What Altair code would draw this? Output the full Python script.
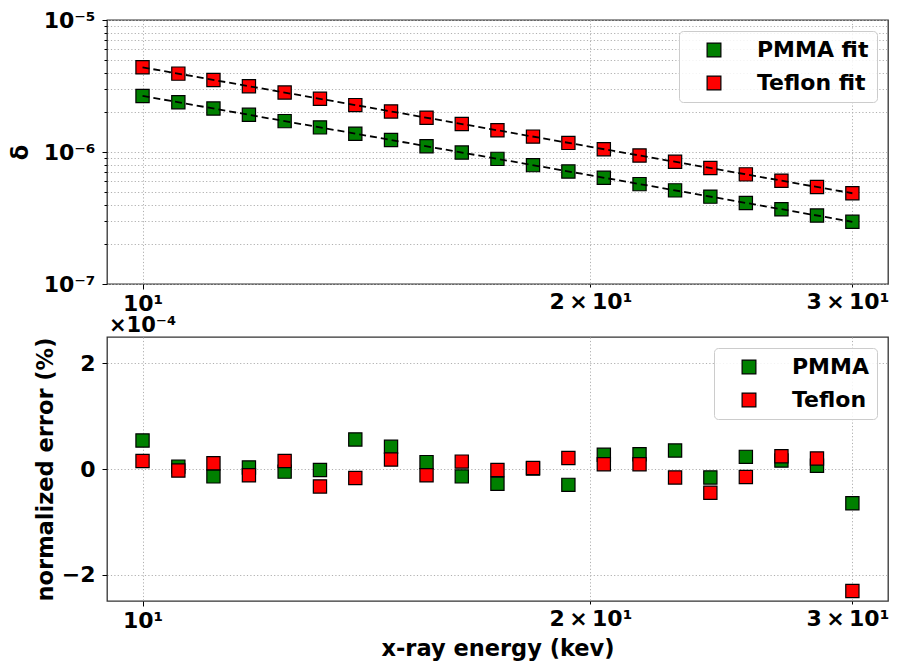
import altair as alt
import pandas as pd

# ---------------- data ----------------
energy_kev = [10.00, 10.57, 11.16, 11.79, 12.46, 13.16, 13.90, 14.69, 15.52, 16.39,
              17.32, 18.30, 19.33, 20.42, 21.58, 22.80, 24.08, 25.44, 26.88, 28.40, 30.00]
delta_pmma = [2.660e-6, 2.383e-6, 2.135e-6, 1.913e-6, 1.714e-6, 1.536e-6, 1.376e-6,
              1.233e-6, 1.105e-6, 0.990e-6, 0.887e-6, 0.795e-6, 0.712e-6, 0.638e-6,
              0.571e-6, 0.512e-6, 0.459e-6, 0.411e-6, 0.368e-6, 0.330e-6, 0.296e-6]
delta_teflon = [4.380e-6, 3.924e-6, 3.516e-6, 3.150e-6, 2.822e-6, 2.529e-6, 2.266e-6,
                2.030e-6, 1.819e-6, 1.629e-6, 1.460e-6, 1.308e-6, 1.172e-6, 1.050e-6,
                0.941e-6, 0.843e-6, 0.756e-6, 0.677e-6, 0.606e-6, 0.543e-6, 0.487e-6]
fit_energy = [10.0, 30.0]
fit_pmma = [2.66e-6, 2.96e-7]
fit_teflon = [4.38e-6, 4.87e-7]
# normalized error, in units of 1e-4 %
err_pmma = [0.54, 0.045, -0.14, 0.03, -0.05, -0.02, 0.56, 0.42, 0.13, -0.14, -0.28,
            0.01, -0.30, 0.27, 0.28, 0.35, -0.16, 0.23, 0.16, 0.06, -0.65]
err_teflon = [0.15, -0.03, 0.11, -0.12, 0.15, -0.33, -0.17, 0.18, -0.12, 0.14, -0.02,
              0.02, 0.21, 0.09, 0.09, -0.16, -0.45, -0.15, 0.24, 0.20, -2.31]

top_series = ["PMMA fit", "Teflon fit"]
bottom_series = ["PMMA", "Teflon"]
series_colors = ["#008000", "#ff0000"]

x_ticks = [10, 20, 30]
x_tick_labels = ["10¹", "2\u2009×\u200910¹", "3\u2009×\u200910¹"]
y_top_major = [1e-7, 1e-6, 1e-5]
y_top_major_labels = ["10⁻⁷", "10⁻⁶", "10⁻⁵"]
y_top_minor = [2e-7, 3e-7, 4e-7, 5e-7, 6e-7, 7e-7, 8e-7, 9e-7,
               2e-6, 3e-6, 4e-6, 5e-6, 6e-6, 7e-6, 8e-6, 9e-6]
y_bottom_ticks = [-2, 0, 2]
offset_text = "×10⁻⁴"

FONT = "DejaVu Sans"
TICK_FS = 22
TITLE_FS = 22.5
LEG_FS = 22
GRID = dict(grid=True, gridColor="#b0b0b0", gridDash=[1.2, 2.2], gridWidth=1)

# ---------------- tables ----------------
n = len(energy_kev)
top_pts = pd.DataFrame({
    "energy": energy_kev * 2,
    "delta": delta_pmma + delta_teflon,
    "series": [top_series[0]] * n + [top_series[1]] * n,
})
fit_df = pd.DataFrame({
    "energy": fit_energy * 2,
    "delta": fit_pmma + fit_teflon,
    "series": [top_series[0]] * len(fit_energy) + [top_series[1]] * len(fit_energy),
})
bot_pts = pd.DataFrame({
    "energy": energy_kev * 2,
    "err": err_pmma + err_teflon,
    "series": [bottom_series[0]] * n + [bottom_series[1]] * n,
})

# ---------------- axes ----------------
x_label_expr = " : ".join(
    f"abs(datum.value - {v}) < 0.01 ? '{l}'" for v, l in zip(x_ticks, x_tick_labels)
) + " : ''"
x_tick_size = {"condition": {"test": "abs(datum.value - 10) < 0.01", "value": 5}, "value": 3}
x_label_offset = {"condition": {"test": "datum.value > 25", "value": -5}, "value": 0}

x_scale = alt.Scale(type="log", domain=[9.465, 31.70], nice=False)


def x_axis(title=None):
    kw = dict(values=x_ticks, labelExpr=x_label_expr, tickSize=x_tick_size,
              labelOffset=x_label_offset,
              labelFont=FONT, labelFontSize=TICK_FS, labelFontWeight="bold",
              labelColor="black", tickColor="black", labelPadding=4,
              domain=False, labelFlush=False, **GRID)
    if title:
        return alt.Axis(title=title, titleFont=FONT, titleFontSize=TITLE_FS,
                        titleFontWeight="bold", titleColor="black", titlePadding=6, **kw)
    return alt.Axis(title=None, **kw)


decade_test = " || ".join(f"abs(datum.value/{v} - 1) < 0.001" for v in y_top_major)
y_top_label_expr = " : ".join(
    f"abs(datum.value/{v} - 1) < 0.001 ? '{l}'" for v, l in zip(y_top_major, y_top_major_labels)
) + " : ''"

y_top_axis = alt.Axis(
    title="δ", titleFont=FONT, titleFontSize=TITLE_FS, titleFontWeight="bold",
    titleColor="black", titlePadding=11,
    values=sorted(y_top_major + y_top_minor), labelExpr=y_top_label_expr,
    tickSize={"condition": {"test": decade_test, "value": 5}, "value": 3},
    labelFont=FONT, labelFontSize=TICK_FS, labelFontWeight="bold", labelColor="black",
    tickColor="black", labelPadding=7, domain=False, labelFlush=False, **GRID,
)

y_bot_axis = alt.Axis(
    title="normalized error (%)", titleFont=FONT, titleFontSize=TITLE_FS,
    titleFontWeight="bold", titleColor="black", titlePadding=4,
    values=y_bottom_ticks, labelExpr="replace(datum.label, '-', '−')",
    tickSize=5, labelFont=FONT, labelFontSize=TICK_FS, labelFontWeight="bold",
    labelColor="black", tickColor="black", labelPadding=7, domain=False,
    labelFlush=False, **GRID,
)


def legend():
    return alt.Legend(
        title=None, orient="top-right", offset=11, padding=8,
        symbolType="square", symbolSize=190, symbolStrokeColor="black",
        symbolStrokeWidth=1.2, symbolOffset=16, labelOffset=32,
        labelFont=FONT, labelFontSize=LEG_FS, labelFontWeight="bold",
        labelColor="black", labelLimit=300, rowPadding=11,
        strokeColor="#cccccc", fillColor="rgba(255,255,255,0.85)", cornerRadius=4,
    )


W, H = 781, 264

# ---------------- top panel ----------------
pts_top = alt.Chart(top_pts).mark_square(
    size=175, filled=True, opacity=1, stroke="black", strokeWidth=1.2
).encode(
    x=alt.X("energy:Q", scale=x_scale, axis=x_axis()),
    y=alt.Y("delta:Q", scale=alt.Scale(type="log", domain=[1e-7, 1e-5], nice=False),
            axis=y_top_axis),
    color=alt.Color("series:N", scale=alt.Scale(domain=top_series, range=series_colors),
                    legend=legend(), sort=top_series),
)
fit_lines = alt.Chart(fit_df).mark_line(
    color="black", strokeDash=[7, 4], strokeWidth=1.8
).encode(
    x=alt.X("energy:Q", scale=x_scale),
    y=alt.Y("delta:Q"),
    detail="series:N",
)
top = alt.layer(pts_top, fit_lines).properties(width=W, height=H)

# ---------------- bottom panel ----------------
pts_bot = alt.Chart(bot_pts).mark_square(
    size=175, filled=True, opacity=1, stroke="black", strokeWidth=1.2
).encode(
    x=alt.X("energy:Q", scale=x_scale, axis=x_axis("x-ray energy (kev)")),
    y=alt.Y("err:Q", scale=alt.Scale(domain=[-2.5, 2.5], nice=False, zero=False),
            axis=y_bot_axis),
    color=alt.Color("series:N", scale=alt.Scale(domain=bottom_series, range=series_colors),
                    legend=legend(), sort=bottom_series),
)
offset_lbl = alt.Chart(pd.DataFrame({"t": [offset_text]})).mark_text(
    align="left", baseline="alphabetic", font=FONT, fontSize=21,
    fontWeight="bold", color="black",
).encode(x=alt.value(2), y=alt.value(-5), text="t:N")
bottom = alt.layer(pts_bot, offset_lbl).properties(width=W, height=H)

chart = alt.vconcat(top, bottom, spacing=53, bounds="flush").resolve_scale(
    color="independent"
).properties(
    padding={"left": 0, "top": 0, "right": 0, "bottom": 2},
    background="white",
).configure_view(
    stroke="#333333", strokeWidth=1.3
)

chart.save("out.html", embed_options={"renderer": "svg", "actions": False})
